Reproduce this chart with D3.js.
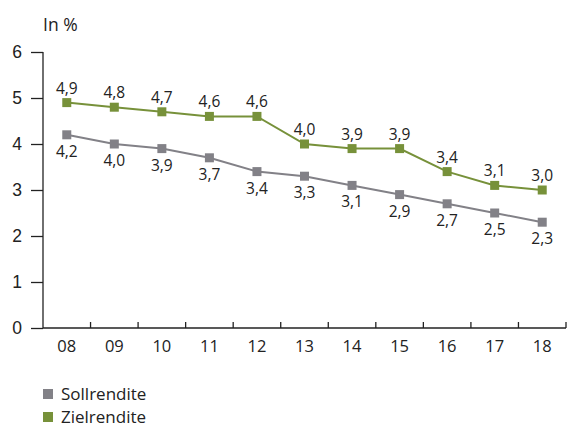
<!DOCTYPE html>
<html>
<head>
<meta charset="utf-8">
<script src="https://cdn.jsdelivr.net/npm/d3@7/dist/d3.min.js"></script>
<style>
  html, body { margin: 0; padding: 0; background: #fff; }
  svg { display: block; font-family: "Open Sans", "Noto Sans", sans-serif; }
</style>
</head>
<body>
<svg id="chart" width="569" height="427"></svg>
<script>
// Jahre (Achsenbeschriftung) und Renditen in %
const years = ["08", "09", "10", "11", "12", "13", "14", "15", "16", "17", "18"];
const sollrendite = [4.2, 4.0, 3.9, 3.7, 3.4, 3.3, 3.1, 2.9, 2.7, 2.5, 2.3];
const zielrendite = [4.9, 4.8, 4.7, 4.6, 4.6, 4.0, 3.9, 3.9, 3.4, 3.1, 3.0];
const yTicks = [0, 1, 2, 3, 4, 5, 6];

const colSoll = "#828187";
const colZiel = "#77913a";
const textCol = "#222";

const svg = d3.select("#chart");

const x = d3.scaleBand().domain(years).range([43, 566]);
const y = d3.scaleLinear().domain([0, 6]).range([328, 52]);

// Y-Achse
const yAxis = svg.append("g")
  .attr("transform", "translate(43,0)")
  .call(d3.axisLeft(y).tickValues(yTicks).tickSize(12).tickPadding(9).tickFormat(d3.format("d")));
yAxis.select(".domain").attr("d", `M0,${y(6)}V${y(0)}`).attr("stroke", "#222").attr("stroke-width", 1.3);
yAxis.selectAll(".tick line").attr("stroke", "#222").attr("stroke-width", 1.3);
yAxis.selectAll(".tick text").attr("font-size", 17.5).attr("fill", textCol);

// X-Achse (Striche zwischen den Jahren, nach innen)
const xAxis = svg.append("g").attr("transform", `translate(0,${y(0)})`);
xAxis.append("line")
  .attr("x1", 43).attr("x2", 566).attr("y1", 0).attr("y2", 0)
  .attr("stroke", "#222").attr("stroke-width", 1.3);
const bounds = years.map(d => x(d)).concat([x(years[years.length - 1]) + x.bandwidth()]).slice(1);
xAxis.selectAll("line.tick").data(bounds).join("line")
  .attr("class", "tick")
  .attr("x1", d => d).attr("x2", d => d).attr("y1", 0).attr("y2", -6)
  .attr("stroke", "#222").attr("stroke-width", 1.3);
xAxis.selectAll("text").data(years).join("text")
  .attr("x", d => x(d) + x.bandwidth() / 2)
  .attr("y", 24)
  .attr("text-anchor", "middle")
  .attr("font-size", 16.5)
  .attr("fill", textCol)
  .text(d => d);

// Einheit
svg.append("text").attr("x", 43).attr("y", 31).attr("font-size", 17.5).attr("fill", textCol).text("In %");

const cx = d => x(d) + x.bandwidth() / 2;
const line = d3.line().x((v, i) => cx(years[i])).y(v => y(v));
const fmt = v => d3.format(".1f")(v).replace(".", ",");

function series(values, color, labelDy) {
  const g = svg.append("g");
  g.append("path").datum(values)
    .attr("d", line).attr("fill", "none")
    .attr("stroke", color).attr("stroke-width", 2);
  g.selectAll("rect").data(values).join("rect")
    .attr("x", (v, i) => cx(years[i]) - 4.5)
    .attr("y", v => y(v) - 4.5)
    .attr("width", 9).attr("height", 9)
    .attr("fill", color);
  g.selectAll("text").data(values).join("text")
    .attr("x", (v, i) => cx(years[i]))
    .attr("y", v => y(v) + labelDy)
    .attr("text-anchor", "middle")
    .attr("font-size", 15.5)
    .attr("fill", textCol)
    .text(fmt);
}

series(sollrendite, colSoll, 22);
series(zielrendite, colZiel, -9);

// Legende
const legend = [["Sollrendite", colSoll], ["Zielrendite", colZiel]];
const lg = svg.append("g");
legend.forEach(([name, color], i) => {
  lg.append("rect").attr("x", 43).attr("y", 389 + i * 23).attr("width", 10).attr("height", 10).attr("fill", color);
  lg.append("text").attr("x", 61).attr("y", 400 + i * 23).attr("font-size", 17).attr("fill", textCol).text(name);
});
</script>
</body>
</html>
